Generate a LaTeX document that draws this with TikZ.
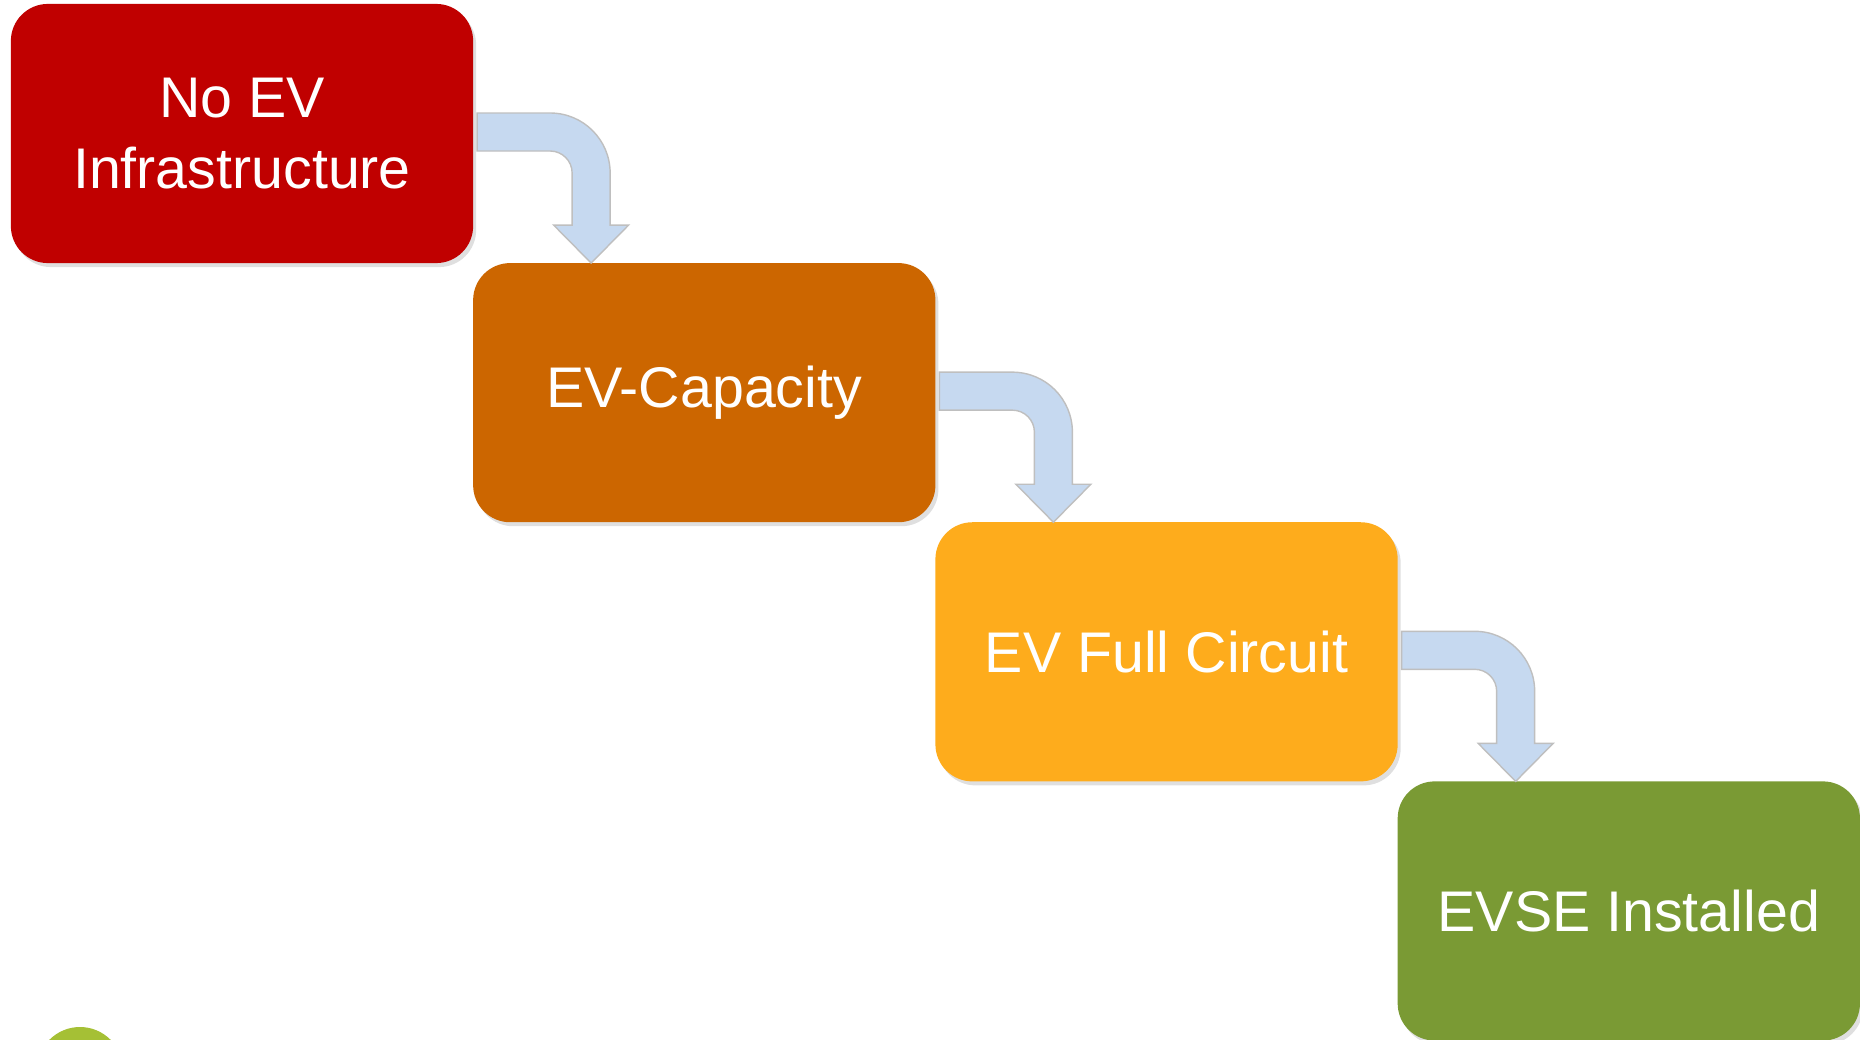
\documentclass[tikz,border=0pt]{standalone}
\usepackage{fontspec}
\setmainfont{Liberation Sans}
\usetikzlibrary{calc,positioning,shadows}
\definecolor{nored}{HTML}{C00000}
\definecolor{caporange}{HTML}{CC6600}
\definecolor{circamber}{HTML}{FEAC1C}
\definecolor{evsegreen}{HTML}{7A9A34}
\definecolor{dotgreen}{HTML}{A5C035}
\definecolor{arrowblue}{HTML}{C6D9F0}
\definecolor{arrowgray}{HTML}{BFBFBF}
\tikzset{
    stage/.style={rounded corners=0.37cm, minimum width=4.62cm, minimum height=2.59cm,
        inner sep=0pt, outer sep=0pt, text=white, align=center,
        font=\fontsize{16.3pt}{20.2pt}\selectfont,
        drop shadow={shadow xshift=0.03cm, shadow yshift=-0.04cm, opacity=0.25}},
    flowarrow/.style={fill=arrowblue, draw=arrowgray, line width=0.4pt}
}

\begin{document}
\begin{tikzpicture}[x=0.01cm, y=0.01cm]
        \useasboundingbox (0,0) rectangle (1860,-1039);
        \fill [dotgreen] (80,-1070) circle [radius=43];
        \node [stage, fill=nored] (noinfra) at (242,-133.5) {No EV\\Infrastructure};
        \node [stage, fill=caporange, below right=0pt and 0pt of noinfra] (capacity) {EV-Capacity};
        \node [stage, fill=circamber, below right=0pt and 0pt of capacity] (circuit) {EV Full Circuit};
        \node [stage, fill=evsegreen, below right=0pt and 0pt of circuit] (evse) {EVSE Installed};
        % bent arrows between the stages
        \foreach \from/\to in {noinfra/capacity, capacity/circuit, circuit/evse} {
            \coordinate (t) at ($(\from.east)+(4,1.5)$);
            \coordinate (s) at ($(\to.north west)+(118,0)$);
            \coordinate (k) at (s |- t);
            \draw [flowarrow] ($(t)+(0,19)$) -- ($(k)+(-41,19)$)
                arc [start angle=90, end angle=0, radius=60]
                -- ($(s)+(19,38)$) -- ($(s)+(37.5,38)$) -- (s)
                -- ($(s)+(-37.5,38)$) -- ($(s)+(-19,38)$) -- ($(k)+(-19,-41)$)
                arc [start angle=0, end angle=90, radius=22]
                -- ($(t)+(0,-19)$) -- cycle;
        }
    \end{tikzpicture}
\end{document}
